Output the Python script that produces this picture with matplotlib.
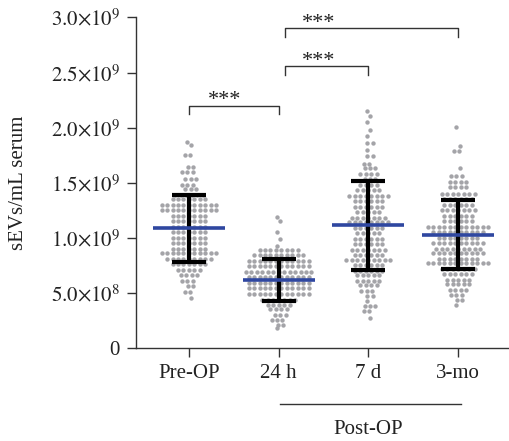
import numpy as np
import matplotlib
matplotlib.use("Agg")
from matplotlib import pyplot as plt
from matplotlib import transforms

plt.rcParams['font.family'] = ['Liberation Serif', 'DejaVu Serif']
plt.rcParams['mathtext.fontset'] = 'stix'

# groups on the x axis
groups = ["Pre-OP", "24 h", "7 d", "3-mo"]

# dot rows: value levels (x1e9) and number of dots per row
pre_levels = [1.87, 1.84, 1.75, 1.64, 1.60, 1.53, 1.48, 1.44, 1.39, 1.35,
              1.30, 1.25, 1.20, 1.15, 1.10, 1.05, 1.00, 0.95, 0.90, 0.86,
              0.81, 0.76, 0.71, 0.66, 0.61, 0.56, 0.51, 0.45]
pre_counts = [1, 1, 2, 2, 3, 3, 3, 3, 6, 7,
              11, 11, 7, 7, 7, 7, 7, 7, 7, 11,
              9, 7, 5, 4, 3, 2, 2, 1]

h24_levels = [1.19, 1.15, 1.05, 0.99, 0.93, 0.89, 0.84, 0.79, 0.74, 0.69,
              0.64, 0.59, 0.54, 0.49, 0.44, 0.39, 0.35, 0.30, 0.25, 0.21,
              0.18]
h24_counts = [1, 1, 1, 1, 1, 8, 10, 12, 12, 13,
              12, 12, 12, 12, 7, 5, 4, 3, 3, 2,
              1]

d7_levels = [2.15, 2.11, 2.05, 1.98, 1.92, 1.86, 1.80, 1.74, 1.67, 1.63,
             1.58, 1.53, 1.48, 1.43, 1.38, 1.33, 1.28, 1.23, 1.18, 1.14,
             1.09, 1.04, 0.99, 0.94, 0.89, 0.84, 0.80, 0.75, 0.70, 0.66,
             0.61, 0.57, 0.52, 0.47, 0.43, 0.38, 0.34, 0.27]
d7_counts = [1, 1, 1, 1, 1, 2, 1, 2, 2, 3,
             4, 3, 4, 5, 8, 6, 6, 5, 7, 8,
             6, 5, 6, 6, 7, 6, 9, 6, 6, 5,
             5, 4, 3, 2, 1, 3, 2, 1]

mo3_levels = [2.01, 1.83, 1.79, 1.63, 1.56, 1.51, 1.46, 1.40, 1.35, 1.30,
              1.25, 1.20, 1.15, 1.10, 1.05, 1.00, 0.95, 0.90, 0.86, 0.81,
              0.77, 0.72, 0.67, 0.62, 0.58, 0.53, 0.48, 0.44, 0.39]
mo3_counts = [1, 1, 2, 1, 3, 4, 4, 7, 6, 6,
              7, 6, 6, 12, 10, 8, 10, 9, 10, 8,
              12, 7, 6, 5, 5, 4, 3, 2, 1]

# mean and SD of each group (x1e9)
means = [1.085, 0.62, 1.112, 1.03]
sds = [0.30, 0.19, 0.40, 0.31]

# significance brackets: (left group, right group, height x1e9)
brackets = [(0, 1, 2.20), (1, 2, 2.557), (1, 3, 2.90)]

scale = 1e9
rows = [(pre_levels, pre_counts), (h24_levels, h24_counts),
        (d7_levels, d7_counts), (mo3_levels, mo3_counts)]

fig = plt.figure(figsize=(5.09, 4.41), dpi=100)
ax = fig.add_axes([0.2672, 0.2109, 0.7308, 0.7495])

# swarm: each row of dots centred on its group, rows nudged left/right
# alternately so the thin tails zigzag like a beeswarm
dx = 0.061
for i, (levels, counts) in enumerate(rows):
    xs, ys = [], []
    for j, (lev, n) in enumerate(zip(levels, counts)):
        nudge = 0.3 * dx * (1 if j % 2 else -1) if n < 4 else 0.0
        off = (np.arange(n) - (n - 1) / 2.0) * dx + nudge
        xs.extend(i + off)
        ys.extend([lev * scale] * n)
    ax.scatter(xs, ys, s=10, color="#a4a4a8", linewidths=0, zorder=2)

pos = np.arange(len(groups))
ax.errorbar(pos, np.array(means) * scale, yerr=np.array(sds) * scale,
            fmt="none", ecolor="black", elinewidth=3, capsize=12,
            capthick=3, zorder=3)
ax.hlines(np.array(means) * scale, pos - 0.40, pos + 0.40,
          color="#2f47a0", linewidth=2.6, zorder=4)

# brackets with stars
star_x = [0.40, 1.45, 1.45]
for (a, b, h), sx in zip(brackets, star_x):
    xa = a if a == 0 else a + 0.07
    leg = 0.075
    ax.plot([xa, xa, b, b], [(h - leg) * scale, h * scale, h * scale,
            (h - leg) * scale], color="#333333", linewidth=1.0,
            clip_on=False, zorder=5)
    ax.text(sx, (h + 0.005) * scale, "***", ha="center", va="baseline",
            fontsize=16, color="#222222")

# axes styling
ax.set_xlim(-0.59, 3.556)
ax.set_ylim(0, 3.0e9)
ax.spines["top"].set_visible(False)
ax.spines["right"].set_visible(False)
for s in ("left", "bottom"):
    ax.spines[s].set_linewidth(1.0)
    ax.spines[s].set_color("#333333")

yt = [0, 0.5e9, 1.0e9, 1.5e9, 2.0e9, 2.5e9, 3.0e9]
ylabels = ["0", r"$5.0{\times}10^{8}$", r"$1.0{\times}10^{9}$",
           r"$1.5{\times}10^{9}$", r"$2.0{\times}10^{9}$",
           r"$2.5{\times}10^{9}$", r"$3.0{\times}10^{9}$"]
ax.set_yticks(yt)
ax.set_yticklabels(ylabels)
ax.set_xticks(pos)
ax.set_xticklabels(groups)
ax.tick_params(axis="both", labelsize=15, colors="#333333",
               labelcolor="#222222", width=1.0, length=6.5, pad=5)

ax.set_ylabel("sEVs/mL serum", fontsize=15, color="#222222")
ax.yaxis.set_label_coords(-0.29, 0.5)

# Post-OP grouping line under the axis
trans = transforms.blended_transform_factory(ax.transData, ax.transAxes)
ax.plot([1.02, 3.03], [-0.169, -0.169], color="#333333", linewidth=1.0,
        transform=trans, clip_on=False)
ax.text(2.0, -0.248, "Post-OP", transform=trans, ha="center", va="center",
        fontsize=15, color="#222222")

fig.savefig("out.png", dpi=100)
